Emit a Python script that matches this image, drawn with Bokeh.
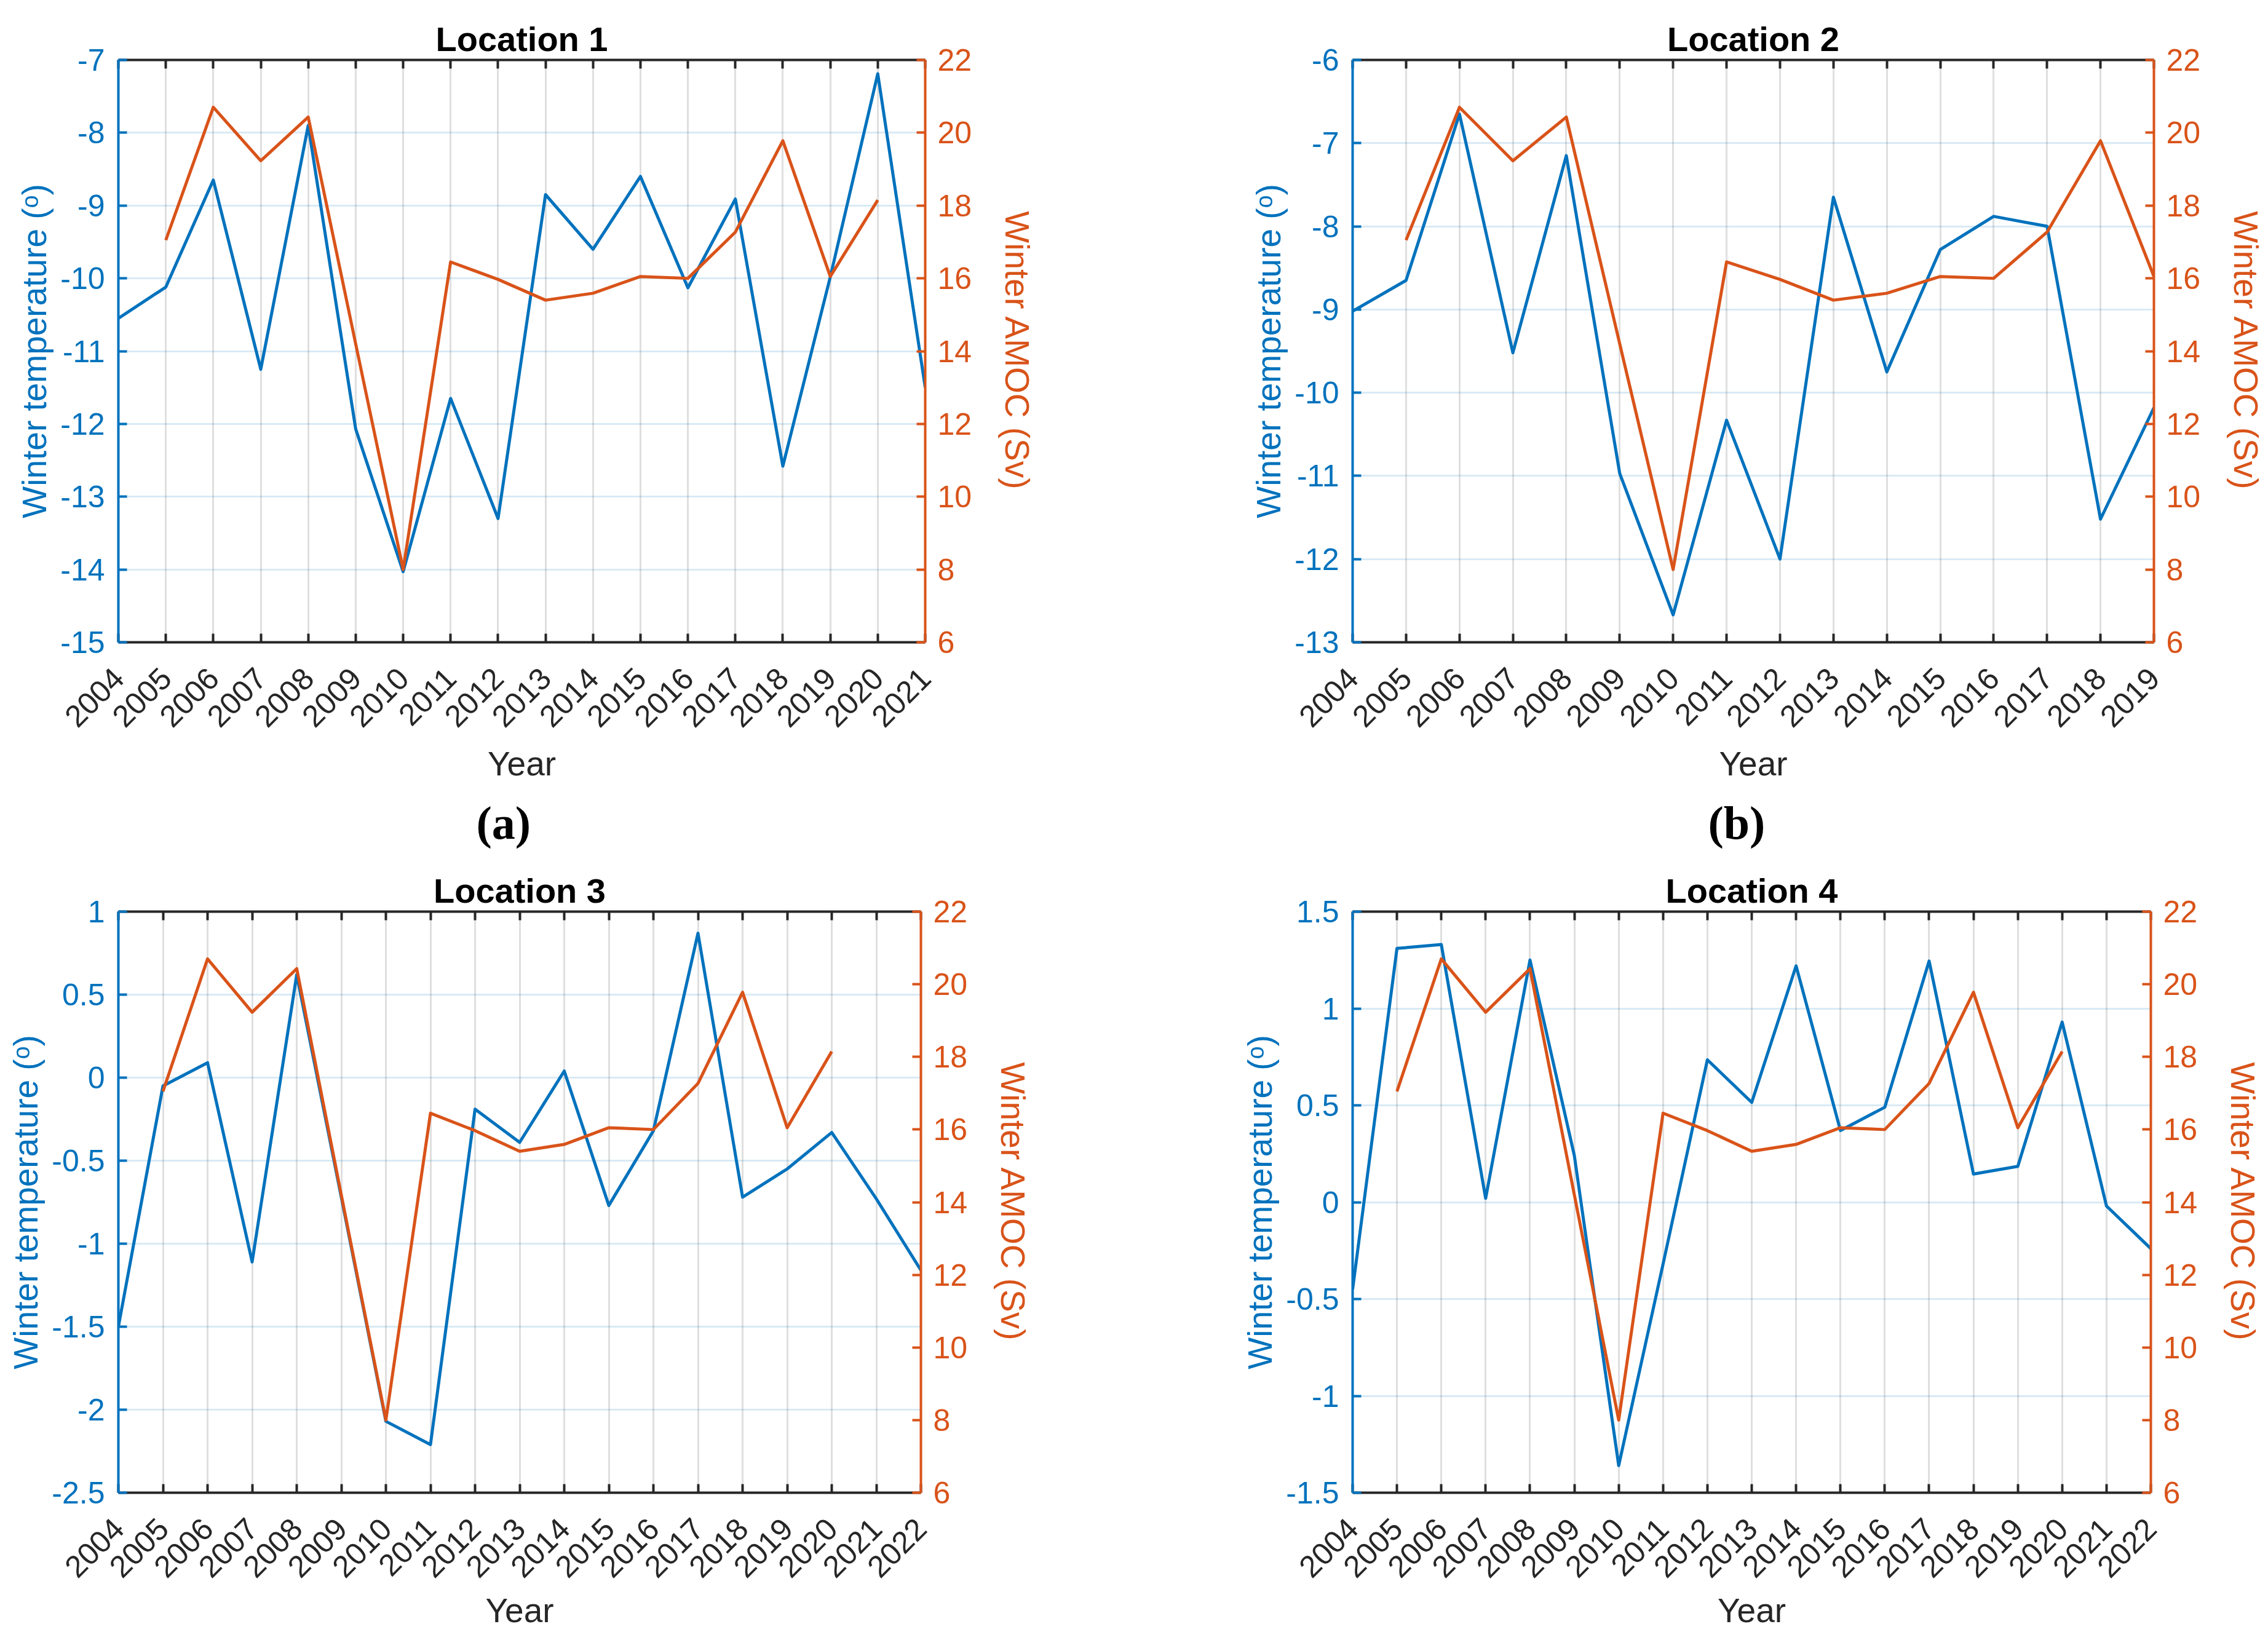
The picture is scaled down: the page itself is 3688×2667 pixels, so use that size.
import math
from bokeh.plotting import figure
from bokeh.models import Range1d, LinearAxis, FixedTicker, NumeralTickFormatter, Title
from bokeh.layouts import column, row
from bokeh.embed import file_html
from bokeh.resources import INLINE

# ---------------- data ----------------
amoc_years = [2005, 2006, 2007, 2008, 2009, 2010, 2011, 2012, 2013, 2014,
              2015, 2016, 2017, 2018, 2019, 2020]
amoc_sv = [17.05, 20.7, 19.23, 20.43, 14.2, 8.0, 16.45, 15.97, 15.4, 15.59,
           16.05, 16.0, 17.27, 19.78, 16.05, 18.15]

loc1_years = list(range(2004, 2022))
loc1_temp = [-10.55, -10.12, -8.65, -11.25, -7.9, -12.07, -14.03, -11.65, -13.3,
             -8.85, -9.6, -8.6, -10.13, -8.91, -12.58, -9.98, -7.19, -11.5]

loc2_years = list(range(2004, 2020))
loc2_temp = [-9.02, -8.65, -6.65, -9.52, -7.15, -10.97, -12.67, -10.33, -12.0,
             -7.65, -9.75, -8.28, -7.88, -8.0, -11.52, -10.18]

loc3_years = list(range(2004, 2023))
loc3_temp = [-1.5, -0.05, 0.09, -1.11, 0.62, -0.72, -2.07, -2.21, -0.19, -0.39,
             0.04, -0.77, -0.32, 0.87, -0.72, -0.55, -0.33, -0.73, -1.16]

loc4_years = list(range(2004, 2023))
loc4_temp = [-0.45, 1.31, 1.33, 0.02, 1.25, 0.24, -1.36, -0.32, 0.735, 0.515,
             1.22, 0.37, 0.49, 1.245, 0.145, 0.185, 0.93, -0.02, -0.24]

titles = ["Location 1", "Location 2", "Location 3", "Location 4"]
temp_ticks1 = [-15, -14, -13, -12, -11, -10, -9, -8, -7]
temp_ticks2 = [-13, -12, -11, -10, -9, -8, -7, -6]
temp_ticks3 = [-2.5, -2, -1.5, -1, -0.5, 0, 0.5, 1]
temp_ticks4 = [-1.5, -1, -0.5, 0, 0.5, 1, 1.5]
amoc_ticks = [6, 8, 10, 12, 14, 16, 18, 20, 22]

BLUE = "#0072BD"
ORANGE = "#D95319"
DARK = "#262626"
FONT = "Liberation Sans"
TICK_FS = "50px"
LABEL_FS = "55px"


def panel(title, years, temp, tticks, amoc_x, amoc_y, sub, sub_offset,
          b_left, f_width, b_right, b_top, f_height, b_bottom, year_standoff):
    p = figure(frame_width=f_width, frame_height=f_height,
               x_range=Range1d(years[0], years[-1]),
               y_range=Range1d(tticks[0], tticks[-1]),
               output_backend="svg", toolbar_location=None,
               min_border_left=b_left, min_border_right=b_right,
               min_border_top=b_top, min_border_bottom=b_bottom,
               background_fill_color="white", border_fill_color="white")
    p.outline_line_color = None
    p.extra_y_ranges = {"amoc": Range1d(amoc_ticks[0], amoc_ticks[-1])}

    # title
    p.title.text = title
    p.title.align = "center"
    p.title.text_font = FONT
    p.title.text_font_size = "56px"
    p.title.text_font_style = "bold"
    p.title.text_color = "black"
    p.title.standoff = 6

    # grids
    p.xgrid.ticker = FixedTicker(ticks=years)
    p.xgrid.grid_line_color = DARK
    p.xgrid.grid_line_alpha = 0.15
    p.xgrid.grid_line_width = 3
    p.ygrid.ticker = FixedTicker(ticks=tticks)
    p.ygrid.grid_line_color = BLUE
    p.ygrid.grid_line_alpha = 0.15
    p.ygrid.grid_line_width = 3

    # bottom x axis
    xa = p.xaxis[0]
    xa.ticker = FixedTicker(ticks=years)
    xa.axis_label = "Year"
    xa.axis_label_text_font = FONT
    xa.axis_label_text_font_size = LABEL_FS
    xa.axis_label_text_font_style = "normal"
    xa.axis_label_text_color = DARK
    xa.axis_label_standoff = year_standoff
    xa.major_label_text_font = FONT
    xa.major_label_text_font_size = TICK_FS
    xa.major_label_text_color = DARK
    xa.major_label_orientation = math.pi / 4
    xa.major_label_standoff = 50
    xa.axis_line_color = DARK
    xa.axis_line_width = 4
    xa.major_tick_line_color = DARK
    xa.major_tick_line_width = 4
    xa.major_tick_in = 14
    xa.major_tick_out = 0
    xa.minor_tick_line_color = None

    # top x axis (box line with ticks, no labels)
    top = LinearAxis(ticker=FixedTicker(ticks=years),
                     major_label_text_color=None,
                     major_label_text_font_size="1px",
                     major_label_standoff=0, axis_label_standoff=0,
                     axis_line_color=DARK, axis_line_width=4,
                     major_tick_line_color=DARK, major_tick_line_width=4,
                     major_tick_in=14, major_tick_out=0,
                     minor_tick_line_color=None)
    p.add_layout(top, "above")

    # left y axis
    ya = p.yaxis[0]
    ya.ticker = FixedTicker(ticks=tticks)
    ya.formatter = NumeralTickFormatter(format="0.[0]")
    ya.axis_label = "Winter temperature (\u1d52)"
    ya.axis_label_text_font = FONT
    ya.axis_label_text_font_size = LABEL_FS
    ya.axis_label_text_font_style = "normal"
    ya.axis_label_text_color = BLUE
    ya.axis_label_standoff = 8
    ya.major_label_text_font = FONT
    ya.major_label_text_font_size = TICK_FS
    ya.major_label_text_color = BLUE
    ya.major_label_standoff = 22
    ya.axis_line_color = BLUE
    ya.axis_line_width = 4
    ya.major_tick_line_color = BLUE
    ya.major_tick_line_width = 4
    ya.major_tick_in = 14
    ya.major_tick_out = 0
    ya.minor_tick_line_color = None

    # right y axis
    ra = LinearAxis(y_range_name="amoc", ticker=FixedTicker(ticks=amoc_ticks),
                    axis_label="Winter AMOC (Sv)",
                    axis_label_text_font=FONT, axis_label_text_font_size=LABEL_FS,
                    axis_label_text_font_style="normal",
                    axis_label_text_color=ORANGE, axis_label_standoff=40,
                    major_label_text_font=FONT, major_label_text_font_size=TICK_FS,
                    major_label_text_color=ORANGE, major_label_standoff=20,
                    axis_line_color=ORANGE, axis_line_width=4,
                    major_tick_line_color=ORANGE, major_tick_line_width=4,
                    major_tick_in=14, major_tick_out=0,
                    minor_tick_line_color=None)
    p.add_layout(ra, "right")

    # data
    p.line(years, temp, line_color=BLUE, line_width=5, line_join="round")
    p.line(amoc_x, amoc_y, line_color=ORANGE, line_width=5, line_join="round",
           y_range_name="amoc")

    if sub:
        t = Title(text=sub, align="left", offset=sub_offset,
                  text_font="Liberation Serif",
                  text_font_size="76px", text_font_style="bold",
                  text_color="black", standoff=36)
        p.add_layout(t, "below")
    return p


def amoc_upto(last_year):
    xs = [y for y in amoc_years if y <= last_year]
    ys = [v for y, v in zip(amoc_years, amoc_sv) if y <= last_year]
    return xs, ys


a1 = amoc_upto(loc1_years[-1])
a2 = amoc_upto(loc2_years[-1])
a3 = amoc_upto(loc3_years[-1])
a4 = amoc_upto(loc4_years[-1])

p1 = panel(titles[0], loc1_years, loc1_temp, temp_ticks1, a1[0], a1[1], "(a)", 582,
           192, 1312, 345, 97, 947, 348, 10)
p2 = panel(titles[1], loc2_years, loc2_temp, temp_ticks2, a2[0], a2[1], "(b)", 578,
           350, 1303, 170, 97, 947, 348, 10)
p3 = panel(titles[2], loc3_years, loc3_temp, temp_ticks3, a3[0], a3[1], None, 0,
           192, 1305, 352, 85, 945, 229, 4)
p4 = panel(titles[3], loc4_years, loc4_temp, temp_ticks4, a4[0], a4[1], None, 0,
           350, 1298, 175, 85, 945, 229, 4)

layout = column(row(p1, p2), row(p3, p4))
open("out.html", "w").write(file_html(layout, INLINE))
